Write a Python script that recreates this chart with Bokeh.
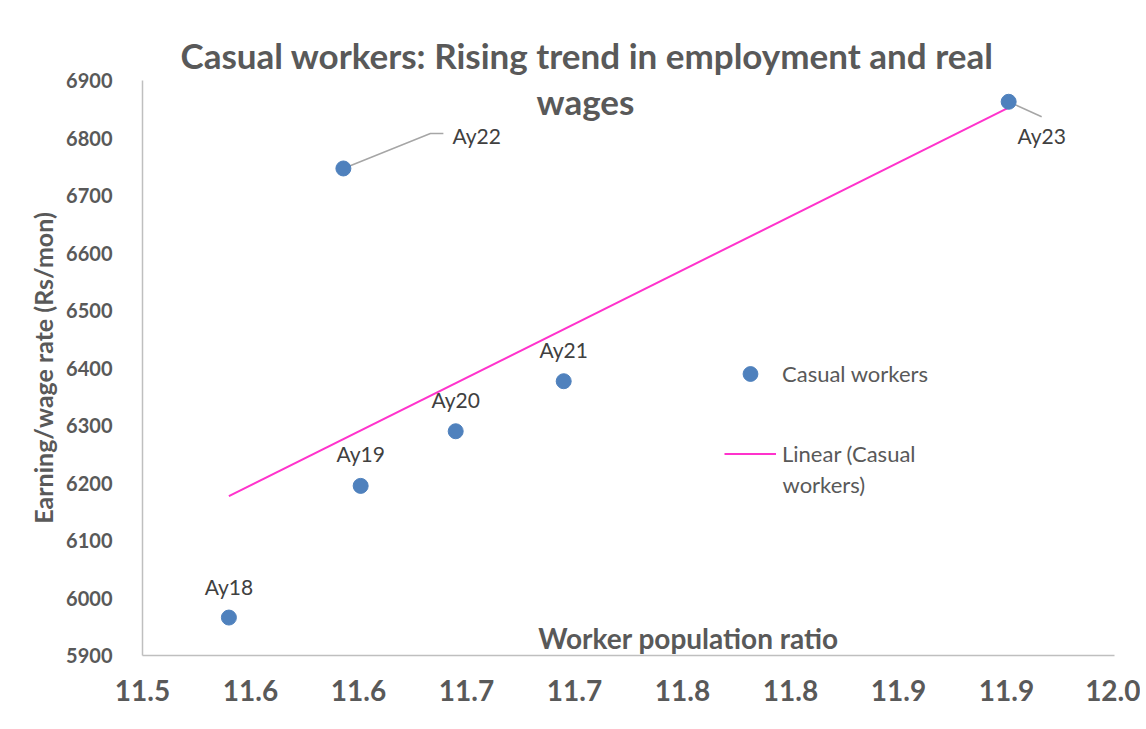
import numpy as np
from bokeh.plotting import figure
from bokeh.models import (Range1d, FixedTicker, CustomJSTickFormatter, ColumnDataSource,
                          Label, Legend, LegendItem)
from bokeh.core.properties import value
from bokeh.embed import file_html
from bokeh.resources import INLINE

# ---- data ----
years = ["Ay18", "Ay19", "Ay20", "Ay21", "Ay22", "Ay23"]
wpr = [11.540, 11.601, 11.645, 11.695, 11.593, 11.901]
wage = [5966, 6195, 6290, 6377, 6747, 6863]
x_ticks = [11.50, 11.55, 11.60, 11.65, 11.70, 11.75, 11.80, 11.85, 11.90, 11.95]
y_ticks = [5900, 6000, 6100, 6200, 6300, 6400, 6500, 6600, 6700, 6800, 6900]
title_lines = ["Casual workers: Rising trend in employment and real", "wages"]
x_title = "Worker population ratio"
y_title = "Earning/wage rate (Rs/mon)"
series_name = "Casual workers"
trend_lines = ["Linear (Casual", "workers)"]

# ---- geometry (page pixels) ----
W, H = 1140, 722
FL, FR, FT, FB = 142, 1114, 80, 655
X0, X1 = x_ticks[0], x_ticks[-1]
Y0, Y1 = y_ticks[0], y_ticks[-1]
dxp = (X1 - X0) / (FR - FL)
dyp = (Y1 - Y0) / (FB - FT)

def sx(ix):  # page px -> data x
    return X0 + (ix - FL) * dxp

def sy(iy):  # page px -> data y
    return Y1 - (iy - FT) * dyp

GREY = "#595959"
FONT = "Lato"

p = figure(width=W, height=H, x_range=Range1d(X0, X1), y_range=Range1d(Y0, Y1),
           output_backend="svg", toolbar_location=None,
           min_border_left=FL, min_border_right=W - FR,
           min_border_top=FT, min_border_bottom=H - FB)
p.xgrid.visible = False
p.ygrid.visible = False
p.outline_line_color = None
p.background_fill_color = "white"
p.border_fill_color = "white"

# title line 1 (above the frame)
p.title.text = title_lines[0]
p.title.align = "left"
p.title.offset = 180 - FL
p.title.standoff = 9
p.title.text_font = FONT
p.title.text_font_style = "bold"
p.title.text_font_size = "35px"
p.title.text_color = GREY

for ax in (p.xaxis[0], p.yaxis[0]):
    ax.axis_line_color = "#bfbfbf"
    ax.axis_line_width = 1.5
    ax.major_tick_line_color = None
    ax.minor_tick_line_color = None
    ax.major_label_text_font = FONT
    ax.major_label_text_font_style = "bold"
    ax.major_label_text_color = GREY

p.xaxis.ticker = FixedTicker(ticks=x_ticks)
p.xaxis.formatter = CustomJSTickFormatter(code="return (Math.round(tick*10 + 1e-6)/10).toFixed(1);")
p.xaxis.major_label_text_font_size = "28px"
p.xaxis.major_label_standoff = 18

p.yaxis.ticker = FixedTicker(ticks=y_ticks)
p.yaxis.major_label_text_font_size = "20px"
p.yaxis.major_label_standoff = 24
p.yaxis.axis_label = y_title
p.yaxis.axis_label_text_font = FONT
p.yaxis.axis_label_text_font_style = "bold"
p.yaxis.axis_label_text_font_size = "25px"
p.yaxis.axis_label_text_color = GREY
p.yaxis.axis_label_standoff = 5

# trend line from least squares fit
coef = np.polyfit(wpr, wage, 1)
tx = [min(wpr), max(wpr)]
ty = list(np.polyval(coef, tx))
tl = p.line(tx, ty, line_color="#ff33cc", line_width=2)

# leader lines for Ay22 and Ay23
i22 = years.index("Ay22")
i23 = years.index("Ay23")
p.line([wpr[i22], wpr[i22] + 87 * dxp, wpr[i22] + 100 * dxp],
       [wage[i22], wage[i22] + 35 * dyp, wage[i22] + 35 * dyp],
       line_color="#a6a6a6", line_width=1.5)
p.line([wpr[i23], wpr[i23] + 33 * dxp],
       [wage[i23], wage[i23] - 15 * dyp],
       line_color="#a6a6a6", line_width=1.5)

src = ColumnDataSource(dict(x=wpr, y=wage, name=years))
sc = p.scatter("x", "y", source=src, size=15, fill_color="#4f81bd", line_color="#4f81bd")

# data labels
xoff = [0, 0, 0, 0, 109, 33]
yoff = [-31, -32, -32, -32, -33, 34]
align = ["center", "center", "center", "center", "left", "center"]
lsrc = ColumnDataSource(dict(x=wpr, y=wage, name=years, xo=xoff, yo=yoff, al=align))
p.text("x", "y", text="name", source=lsrc, x_offset="xo", y_offset="yo",
       text_align="al", text_baseline="middle", text_font=value(FONT),
       text_font_size="21px", text_color="#404040")

# title line 2 (inside frame)
p.add_layout(Label(x=sx(585), y=sy(100), text=title_lines[1], text_align="center",
                   text_baseline="middle", text_font=FONT, text_font_style="bold",
                   text_font_size="35px", text_color=GREY))

# x axis title inside frame
p.add_layout(Label(x=sx(688), y=sy(637), text=x_title, text_align="center",
                   text_baseline="middle", text_font=FONT, text_font_style="bold",
                   text_font_size="28px", text_color=GREY))

legend = Legend(items=[LegendItem(label=series_name, renderers=[sc]),
                       LegendItem(label=trend_lines[0], renderers=[tl])],
                location=(724 - FL, 655 - 472), background_fill_alpha=0, border_line_color=None,
                label_text_font=FONT, label_text_font_size="22px", label_text_color=GREY,
                glyph_width=52, glyph_height=37, label_standoff=6, spacing=43,
                padding=0, margin=0)
p.add_layout(legend)
p.add_layout(Label(x=sx(782), y=sy(484), text=trend_lines[1], text_align="left",
                   text_baseline="middle", text_font=FONT, text_font_size="22px",
                   text_color=GREY))

open("out.html", "w").write(file_html(p, INLINE))
